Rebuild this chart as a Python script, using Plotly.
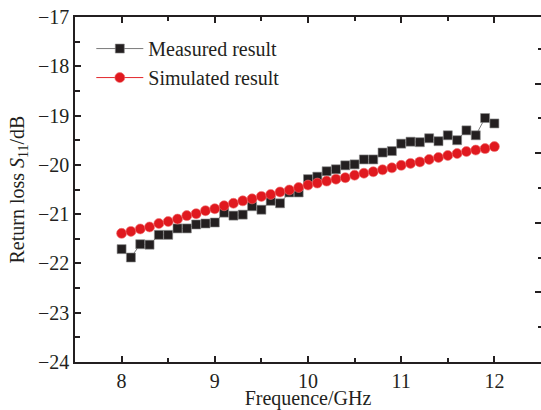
import plotly.graph_objects as go

freq = [round(8.0 + 0.1 * i, 1) for i in range(41)]

measured = [-21.71, -21.88, -21.61, -21.62, -21.42, -21.42, -21.29, -21.29, -21.21, -21.19,
            -21.17, -20.97, -21.03, -21.01, -20.84, -20.91, -20.73, -20.78, -20.56, -20.56,
            -20.29, -20.24, -20.13, -20.09, -20.01, -19.99, -19.89, -19.89, -19.75, -19.72,
            -19.57, -19.53, -19.54, -19.46, -19.52, -19.40, -19.50, -19.30, -19.40, -19.05,
            -19.16]

simulated = [-21.39, -21.35, -21.30, -21.26, -21.19, -21.15, -21.10, -21.03, -20.99, -20.93,
             -20.89, -20.83, -20.78, -20.73, -20.69, -20.64, -20.60, -20.55, -20.51, -20.46,
             -20.41, -20.37, -20.33, -20.29, -20.26, -20.21, -20.17, -20.14, -20.10, -20.06,
             -20.01, -19.97, -19.94, -19.89, -19.85, -19.81, -19.77, -19.73, -19.70, -19.67,
             -19.63]

x_ticks = [8, 9, 10, 11, 12]
y_ticks = [-24, -23, -22, -21, -20, -19, -18, -17]

FONT = "Liberation Serif, Times New Roman, serif"
INK = "#231f20"

fig = go.Figure()
fig.add_trace(go.Scatter(
    x=freq, y=measured, mode="lines+markers", name="Measured result",
    line=dict(color="#7a7a7a", width=1),
    marker=dict(symbol="square", size=9, color=INK, line=dict(color="#8a8a8a", width=0.6)),
))
fig.add_trace(go.Scatter(
    x=freq, y=simulated, mode="lines+markers", name="Simulated result",
    line=dict(color="#e3262b", width=1),
    marker=dict(symbol="circle", size=10, color="#e0191f", line=dict(color="#f07070", width=0.6)),
))
# dummy trace so the right-hand tick axis is drawn
fig.add_trace(go.Scatter(x=[None], y=[None], yaxis="y2", showlegend=False, hoverinfo="skip"))

fig.update_layout(
    width=541, height=410,
    margin=dict(l=75, r=0, t=17, b=46),
    paper_bgcolor="white", plot_bgcolor="white",
    font=dict(family=FONT, size=20, color=INK),
    showlegend=True,
    legend=dict(x=0.035, y=0.965, xanchor="left", yanchor="top",
                bgcolor="rgba(0,0,0,0)", font=dict(family=FONT, size=20, color=INK),
                itemwidth=47, tracegroupgap=0),
    xaxis=dict(
        range=[7.5, 12.5], tickvals=x_ticks, ticktext=[str(v) for v in x_ticks],
        ticks="inside", ticklen=6, tickwidth=1.5, tickcolor=INK,
        minor=dict(dtick=0.5, tick0=7.5, ticks="inside", ticklen=4, tickwidth=1.5, tickcolor=INK),
        showline=True, linecolor=INK, linewidth=1.5, mirror="ticks",
        showgrid=False, zeroline=False,
        tickfont=dict(family=FONT, size=20, color=INK),
        title=dict(text="Frequence/GHz", font=dict(family=FONT, size=20, color=INK), standoff=4),
    ),
    yaxis=dict(
        range=[-24, -17], tickvals=y_ticks, ticktext=["\u2212" + str(-v) for v in y_ticks],
        ticks="inside", ticklen=6, tickwidth=1.5, tickcolor=INK,
        minor=dict(dtick=0.5, tick0=-24, ticks="inside", ticklen=5, tickwidth=1.5, tickcolor=INK),
        showline=True, linecolor=INK, linewidth=1.5, mirror=False,
        showgrid=False, zeroline=False,
        tickfont=dict(family=FONT, size=20, color=INK),
        title=dict(text="Return loss <i>S</i><sub>11</sub>/dB",
                   font=dict(family=FONT, size=20, color=INK), standoff=8),
    ),
    yaxis2=dict(
        overlaying="y", side="right", anchor="x", range=[0, 4.957],
        tickvals=[1, 2, 3, 4], showticklabels=False,
        ticks="inside", ticklen=6, tickwidth=1.5, tickcolor=INK,
        minor=dict(dtick=0.5, tick0=0.5, ticks="inside", ticklen=3, tickwidth=1.5, tickcolor=INK),
        showline=False, showgrid=False, zeroline=False,
    ),
)

fig.write_html("out.html")
